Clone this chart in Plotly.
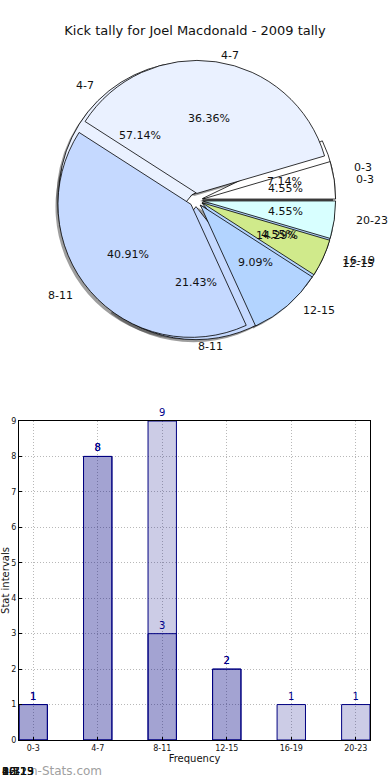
import math
import plotly.graph_objects as go

# ---------------- data ----------------
title = "Kick tally for Joel Macdonald - 2009 tally"
cats_a = ["0-3", "4-7", "8-11", "12-15"]
vals_a = [1, 8, 3, 2]
cats_b = ["0-3", "4-7", "8-11", "12-15", "16-19", "20-23"]
vals_b = [1, 8, 9, 2, 1, 1]
slice_colors = {"0-3": "#ffffff", "4-7": "#eaf1ff", "8-11": "#c5d9ff",
                "12-15": "#b3d4ff", "16-19": "#d0ea8b", "20-23": "#d8ffff"}
y_ticks = list(range(0, 10))

# ---------------- geometry ----------------
W, H = 390, 780
CX, CY, R = 196, 200, 133
TRX, TRY = 139, 127  # text placement radii (reference pie is slightly oval)
PULL = 0.05
FONT = "DejaVu Sans"


def pie_domain(dx=0.0, dy=0.0):
    half = R * (1 + PULL)
    return dict(x=[(CX + dx - half) / W, (CX + dx + half) / W],
                y=[1 - (CY + dy + half) / H, 1 - (CY + dy - half) / H])


def start_rotation(vals):
    # first slice starts at 3 o'clock and runs counterclockwise
    return 90 - 360.0 * vals[0] / sum(vals)


fig = go.Figure()

# shadows (below everything)
for cats, vals in ((cats_a, vals_a), (cats_b, vals_b)):
    fig.add_trace(go.Pie(labels=cats, values=vals, sort=False, direction="counterclockwise",
                         rotation=start_rotation(vals), pull=[PULL] * len(vals), textinfo="none",
                         marker=dict(colors=["rgba(40,40,40,0.45)"] * len(vals),
                                     line=dict(width=0)),
                         domain=pie_domain(-2.5, 2.5), showlegend=False, hoverinfo="skip"))

# slices
for cats, vals in ((cats_a, vals_a), (cats_b, vals_b)):
    fig.add_trace(go.Pie(labels=cats, values=vals, sort=False, direction="counterclockwise",
                         rotation=start_rotation(vals), pull=[PULL] * len(vals), textinfo="none",
                         marker=dict(colors=[slice_colors[c] for c in cats],
                                     line=dict(color="black", width=0.8)),
                         domain=pie_domain(), showlegend=False))

annotations = []
# pie texts (matplotlib style: pct at 0.6 r, labels at 1.1 r)
for cats, vals in ((cats_a, vals_a), (cats_b, vals_b)):
    tot = sum(vals)
    start = 0.0
    for c, v in zip(cats, vals):
        span = 360.0 * v / tot
        mid = math.radians(start + span / 2)
        start += span
        ox, oy = math.cos(mid), math.sin(mid)
        side = "left" if round(ox, 9) >= 0 else "right"
        for dist, txt, anchor in ((0.6, f"{100.0 * v / tot:.2f}%", "center"),
                                  (1.1, c, side)):
            px = CX + ox * TRX * (dist + PULL)
            py = CY - oy * TRY * (dist + PULL)
            annotations.append(dict(x=px / W, y=1 - py / H, xref="paper", yref="paper",
                                    text=txt, showarrow=False, xanchor=anchor, yanchor="middle",
                                    font=dict(family=FONT, size=11, color="#111111")))

# ---------------- bars ----------------
bar_fill = "rgba(0,0,128,0.2)"
for cats, vals in ((cats_b, vals_b), (cats_a, vals_a)):
    fig.add_trace(go.Bar(x=cats, y=vals, width=0.44, text=[str(v) for v in vals],
                         textposition="outside", cliponaxis=False,
                         textfont=dict(family=FONT, size=10, color="#00008b"),
                         marker=dict(color=bar_fill, line=dict(color="#000080", width=1)),
                         showlegend=False))

grid = dict(showgrid=True, gridcolor="#b8b8b8", griddash="1px,2px", gridwidth=1)
fig.update_layout(
    width=W, height=H, margin=dict(l=0, r=0, t=0, b=0),
    paper_bgcolor="white", plot_bgcolor="white", barmode="overlay",
    title=dict(text=title, x=0.5, xanchor="center", y=1 - 30 / H, yanchor="middle",
               font=dict(family=FONT, size=13, color="#111111")),
    xaxis=dict(domain=[19 / W, 370 / W], anchor="y", type="category", automargin=False,
               categoryorder="array", categoryarray=cats_b, range=[-0.22, 5.22],
               showline=True, mirror=True, linecolor="black", linewidth=1, **grid,
               ticks="inside", ticklen=3, tickcolor="black",
               tickfont=dict(family=FONT, size=8, color="#111111"),
               title=dict(text="Frequency", standoff=2,
                          font=dict(family=FONT, size=10, color="#111111"))),
    yaxis=dict(domain=[1 - 740 / H, 1 - 421 / H], anchor="x", range=[0, 9], automargin=False,
               tickvals=y_ticks, showline=True, mirror=True, linecolor="black", linewidth=1,
               **grid, zeroline=False, ticks="inside", ticklen=3, tickcolor="black",
               tickfont=dict(family=FONT, size=8, color="#111111"),
               title=dict(text="Stat intervals", standoff=4,
                          font=dict(family=FONT, size=10, color="#111111"))),
    annotations=annotations,
)

# watermark and overlapping labels at bottom-left
fig.add_annotation(x=28 / W, y=1 - 771 / H, xref="paper", yref="paper", text="n-Stats.com",
                   showarrow=False, xanchor="left", yanchor="middle",
                   font=dict(family=FONT, size=12, color="#a0a0a0"))
for c in cats_b:
    fig.add_annotation(x=0, y=1 - 771 / H, xref="paper", yref="paper", text=c,
                       showarrow=False, xanchor="left", yanchor="middle",
                       font=dict(family=FONT, size=11, color="#111111"))

fig.write_html("out.html", config={"displayModeBar": False},
               post_script="document.body.style.margin='0';")
